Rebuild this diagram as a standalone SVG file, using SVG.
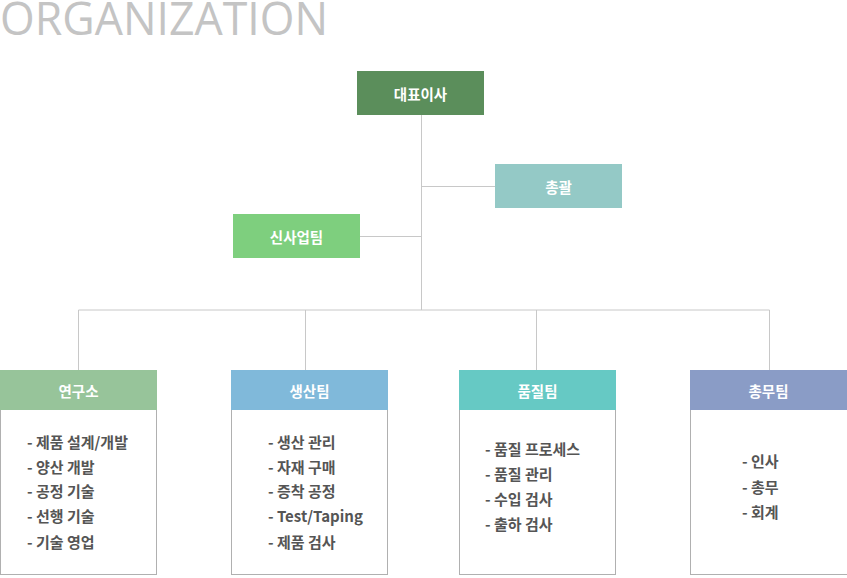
<svg xmlns="http://www.w3.org/2000/svg" width="847" height="578" viewBox="0 0 847 578">
<style>
.t{font-family:"Noto Sans CJK KR","Noto Sans",sans-serif;font-weight:bold;font-size:14.5px;fill:#ffffff;text-anchor:middle;dominant-baseline:central}
.l{font-family:"Noto Sans CJK KR","Noto Sans",sans-serif;font-weight:bold;font-size:15px;fill:#555555;dominant-baseline:central}
.box{fill:#ffffff;stroke:#b0b0b0;stroke-width:1}
.c{stroke:#c8c8c8;stroke-width:1;fill:none}
</style>
<rect width="847" height="578" fill="#ffffff"/>
<text x="0" y="34.5" font-family="'Open Sans','Noto Sans',sans-serif" font-size="45" fill="#c4c4c4" textLength="328" lengthAdjust="spacingAndGlyphs">ORGANIZATION</text>
<g id="connectors">
<path class="c" d="M421.5 115V310M421.5 186.5H495M360 236.5H421.5M78.5 310H769.5M78.5 310V370M305.5 310V370M536.5 310V370M769.5 310V370"/>
</g>
<g id="ceo">
<rect x="357" y="71" width="127" height="44" fill="#5b8e5b"/>
<text class="t" x="420.5" y="93">대표이사</text>
</g>
<g id="general">
<rect x="495" y="164" width="127" height="44" fill="#94c9c6"/>
<text class="t" x="558.5" y="186">총괄</text>
</g>
<g id="newbiz">
<rect x="233" y="214" width="127" height="44" fill="#7ecf7e"/>
<text class="t" x="296.5" y="236">신사업팀</text>
</g>
<g id="rnd">
<rect class="box" x="0.5" y="370.5" width="156" height="204"/>
<rect x="0" y="370" width="157" height="40" fill="#97c49a"/>
<text class="t" x="78.5" y="390">연구소</text>
<text class="l" x="27" y="441">- 제품 설계/개발</text>
<text class="l" x="27" y="466">- 양산 개발</text>
<text class="l" x="27" y="490">- 공정 기술</text>
<text class="l" x="27" y="515">- 선행 기술</text>
<text class="l" x="27" y="541">- 기술 영업</text>
</g>
<g id="production">
<rect class="box" x="231.5" y="370.5" width="156" height="204"/>
<rect x="231" y="370" width="157" height="40" fill="#80b9da"/>
<text class="t" x="309.5" y="390">생산팀</text>
<text class="l" x="268" y="441">- 생산 관리</text>
<text class="l" x="268" y="466">- 자재 구매</text>
<text class="l" x="268" y="490">- 증착 공정</text>
<text class="l" x="268" y="515">- Test/Taping</text>
<text class="l" x="268" y="541">- 제품 검사</text>
</g>
<g id="quality">
<rect class="box" x="459.5" y="370.5" width="156" height="204"/>
<rect x="459" y="370" width="157" height="40" fill="#66c9c4"/>
<text class="t" x="537.5" y="390">품질팀</text>
<text class="l" x="485" y="448">- 품질 프로세스</text>
<text class="l" x="485" y="473">- 품질 관리</text>
<text class="l" x="485" y="498">- 수입 검사</text>
<text class="l" x="485" y="523">- 출하 검사</text>
</g>
<g id="admin">
<rect class="box" x="690.5" y="370.5" width="160" height="204"/>
<rect x="690" y="370" width="157" height="40" fill="#8a9cc6"/>
<text class="t" x="768.5" y="390">총무팀</text>
<text class="l" x="742" y="460">- 인사</text>
<text class="l" x="742" y="486">- 총무</text>
<text class="l" x="742" y="511">- 회계</text>
</g>
</svg>
